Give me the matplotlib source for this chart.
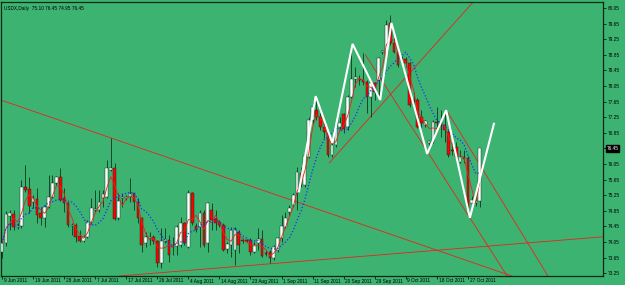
import matplotlib
matplotlib.use("Agg")
import matplotlib.pyplot as plt
import numpy as np
import pandas as pd

# ---------------- data ----------------
opens = [73.79, 74.02, 74.72, 74.77, 74.43, 74.46, 75.46, 75.41, 75.08, 75.15,
         74.79, 74.67, 74.95, 75.20, 75.56, 75.72, 75.18, 75.05, 74.46, 74.49,
         74.20, 74.08, 74.18, 74.56, 74.87, 74.87, 75.18, 75.20, 75.90, 75.95,
         74.67, 75.18, 75.18, 75.20, 75.31, 75.08, 74.67, 74.02, 74.15, 74.18,
         74.08, 73.51, 74.08, 74.10, 73.95, 73.95, 73.97, 74.54, 73.92, 75.31,
         74.46, 74.43, 74.79, 74.02, 74.87, 74.64, 74.56, 74.49, 73.87, 73.97,
         73.85, 74.31, 74.10, 74.10, 74.10, 73.79, 74.02, 74.13, 73.77, 73.79,
         73.64, 73.85, 74.15, 74.43, 74.82, 75.00, 75.31, 75.82, 75.51, 76.23,
         77.18, 77.43, 77.26, 77.00, 76.85, 76.28, 76.54, 77.00, 77.33, 77.00,
         77.77, 78.23, 78.23, 78.20, 78.15, 77.77, 78.13, 78.20, 78.92, 78.90,
         79.67, 79.15, 78.92, 78.77, 78.74, 78.64, 77.69, 77.69, 77.26, 77.05,
         76.59, 76.61, 77.13, 77.13, 77.05, 76.87, 76.41, 76.49, 76.10, 76.23,
         76.20, 75.05, 75.05, 75.10]
highs = [74.08, 74.84, 74.87, 74.87, 74.54, 75.64, 76.02, 75.72, 75.26, 75.43,
         74.95, 75.00, 75.77, 75.77, 75.74, 75.95, 75.43, 75.08, 74.54, 74.54,
         74.36, 74.23, 74.61, 75.18, 75.38, 75.38, 75.38, 76.15, 76.72, 76.08,
         75.31, 75.31, 75.26, 75.69, 75.31, 75.18, 74.69, 74.31, 74.31, 74.23,
         74.10, 74.41, 74.41, 74.23, 74.18, 74.49, 74.69, 74.56, 75.38, 75.33,
         74.54, 74.87, 74.87, 75.08, 75.05, 74.87, 74.61, 74.54, 74.05, 74.43,
         74.43, 74.36, 74.15, 74.13, 74.15, 74.05, 74.41, 74.36, 73.85, 73.85,
         73.97, 74.18, 74.74, 74.82, 75.00, 75.31, 75.97, 75.97, 76.33, 77.26,
         77.64, 77.77, 77.36, 77.10, 76.87, 76.59, 77.10, 77.26, 77.36, 77.82,
         79.08, 78.54, 78.33, 78.90, 78.20, 78.20, 78.15, 78.79, 78.97, 79.74,
         79.87, 79.28, 79.02, 78.82, 78.79, 78.67, 77.90, 77.74, 77.43, 77.18,
         76.67, 77.18, 77.51, 77.43, 77.43, 76.92, 76.67, 76.61, 76.41, 76.41,
         76.26, 75.23, 75.20, 76.45]
lows = [73.64, 73.95, 74.36, 74.36, 74.38, 74.41, 75.33, 74.79, 74.92, 74.54,
        74.49, 74.43, 74.92, 75.18, 75.51, 75.10, 74.82, 74.43, 74.23, 74.05,
        74.05, 74.05, 74.15, 74.51, 74.82, 74.82, 74.95, 75.18, 75.87, 74.61,
        74.61, 74.95, 75.13, 75.08, 74.87, 74.54, 73.79, 73.92, 73.97, 74.00,
        73.41, 73.38, 74.02, 73.54, 73.72, 73.72, 73.92, 73.97, 73.90, 74.49,
        74.31, 73.92, 73.92, 73.79, 74.36, 74.36, 74.43, 73.82, 73.77, 73.67,
        73.46, 73.77, 74.02, 74.05, 73.72, 73.77, 73.85, 73.67, 73.69, 73.51,
        73.59, 73.79, 74.05, 74.41, 74.74, 74.95, 74.87, 75.46, 75.46, 76.20,
        77.10, 77.18, 76.92, 76.72, 76.23, 76.23, 76.49, 76.92, 76.85, 76.92,
        77.74, 78.02, 78.08, 78.08, 77.36, 77.26, 77.69, 77.69, 78.87, 78.85,
        79.10, 78.90, 78.54, 78.59, 78.54, 77.51, 77.49, 76.97, 77.00, 77.00,
        76.41, 76.59, 76.92, 76.74, 76.61, 76.23, 76.28, 76.20, 76.08, 76.08,
        74.72, 74.90, 74.97, 74.95]
closes = [74.02, 74.77, 74.79, 74.43, 74.46, 75.46, 75.38, 74.97, 75.18, 74.74,
          74.67, 74.95, 75.20, 75.56, 75.72, 75.13, 75.05, 74.49, 74.49, 74.18,
          74.08, 74.18, 74.56, 74.92, 74.90, 75.08, 75.28, 75.95, 75.95, 74.64,
          75.10, 75.20, 75.20, 75.28, 75.08, 74.67, 73.97, 74.18, 74.18, 74.08,
          73.51, 74.08, 74.13, 73.72, 73.92, 74.43, 74.54, 74.02, 75.31, 74.54,
          74.36, 74.79, 73.97, 75.05, 74.61, 74.54, 74.49, 73.85, 74.00, 74.36,
          74.36, 73.97, 74.08, 74.08, 73.79, 73.97, 74.13, 73.69, 73.74, 73.64,
          73.92, 74.15, 74.46, 74.67, 74.92, 75.26, 75.85, 75.51, 76.26, 77.18,
          77.51, 77.26, 77.00, 76.87, 76.28, 76.54, 77.05, 77.10, 76.95, 77.77,
          78.23, 78.28, 78.20, 78.15, 77.77, 78.13, 77.90, 78.77, 78.95, 79.61,
          79.15, 78.92, 78.59, 78.72, 78.64, 77.56, 77.67, 77.00, 77.10, 77.15,
          76.64, 77.13, 77.10, 77.05, 76.92, 76.28, 76.38, 76.23, 76.23, 76.18,
          74.92, 75.13, 75.10, 76.45]

date_labels = ["9 Jun 2011", "19 Jun 2011", "28 Jun 2011", "7 Jul 2011",
               "17 Jul 2011", "26 Jul 2011", "4 Aug 2011", "14 Aug 2011",
               "23 Aug 2011", "1 Sep 2011", "11 Sep 2011", "20 Sep 2011",
               "29 Sep 2011", "9 Oct 2011", "18 Oct 2011", "27 Oct 2011"]
date_label_bars = [0, 8, 16, 24, 32, 40, 48, 56, 64, 72, 80, 88, 96, 104, 112, 120]

price_ticks = [80.05, 79.65, 79.25, 78.85, 78.45, 78.05, 77.65, 77.25, 76.85,
               76.45, 76.05, 75.65, 75.25, 74.85, 74.45, 74.05, 73.65, 73.25]
last_price = 76.45

zigzag_bars = [76.5, 80.8, 85.1, 90.3, 97.4, 100.3, 109.5, 114.4, 120.5, 126.7]
zigzag_prices = [75.35, 77.79, 76.59, 79.13, 77.69, 79.67, 76.31, 77.43, 74.67, 77.08]

# trend lines: (bar1, price1, bar2, price2, ray?)
trend_lines = [
    (0.0, 77.68, 28.0, 76.72, False),
    (30.5, 73.18, 154.4, 74.18, False),
    (84.3, 76.08, 117.2, 79.74, True),
    (93.6, 78.85, 130.1, 73.18, True),
    (114.9, 77.36, 140.6, 73.18, True),
]

header = "USDX,Daily  75.10 76.45 74.95 76.45"

# ---------------- styling ----------------
BG = "#3cb371"
W, H = 625, 285
fig = plt.figure(figsize=(W / 100, H / 100), dpi=100, facecolor=BG)
ax = fig.add_axes([1.5 / W, 1 - 276 / H, (603 - 1.5) / W, (276 - 1.5) / H])
ax.set_facecolor(BG)

x = np.arange(len(closes))
o = np.array(opens); c = np.array(closes); h = np.array(highs); l = np.array(lows)

# trend lines
for b1, p1, b2, p2, ray in trend_lines:
    if ray:
        slope = (p2 - p1) / (b2 - b1)
        b_end = 170.0
        ax.plot([b1, b_end], [p1, p1 + slope * (b_end - b1)], color="#e8231f",
                lw=0.6, zorder=2)
    else:
        ax.axline((b1, p1), (b2, p2), color="#e8231f", lw=0.6, zorder=2)

# candles
ax.vlines(x, l, h, color="#0a2a14", lw=0.55, zorder=3)
up = c >= o
body_bottom = np.minimum(o, c)
body_h = np.maximum(np.abs(c - o), 0.012)
ax.bar(x[up], body_h[up], bottom=body_bottom[up], width=0.7, color="white",
       edgecolor="#0a2a14", linewidth=0.3, zorder=4)
ax.bar(x[~up], body_h[~up], bottom=body_bottom[~up], width=0.7, color="#ff0000",
       edgecolor="#0a2a14", linewidth=0.3, zorder=4)

# moving averages of the closes
close_s = pd.Series(closes)
ma_fast = close_s.rolling(3, min_periods=1).mean()
ma_slow = close_s.rolling(8, min_periods=1).mean()
ax.plot(x, ma_fast, color="#e8231f", lw=0.6, zorder=5)
ax.plot(x, ma_slow, color="#1530ff", lw=0.9, ls=(0, (1, 1.6)), zorder=5)

# zigzag
ax.plot(zigzag_bars, zigzag_prices, color="white", lw=1.5, zorder=6,
        solid_joinstyle="miter")

ax.set_xlim(-0.13, 154.8)
ax.set_ylim(73.178, 80.217)

for s in ax.spines.values():
    s.set_color("#0a2a14")
    s.set_linewidth(0.9)

FS = 3.4
FONT = "Liberation Sans"
ax.yaxis.tick_right()
ax.set_yticks(price_ticks)
ax.set_yticklabels([("" if abs(p - last_price) < 1e-6 else f"{p:.2f}") for p in price_ticks],
                   fontsize=FS, family=FONT, color="black")
ax.tick_params(axis="y", direction="out", length=2.2, width=0.5, pad=1.2,
               colors="black")
ax.set_xticks(date_label_bars)
ax.set_xticklabels([])
ax.tick_params(axis="x", direction="out", length=2.2, width=0.5, colors="black")

# date labels: left-aligned just right of the tick
for b, lab in zip(date_label_bars, date_labels):
    ax.annotate(lab, xy=(b, 0), xycoords=("data", "axes fraction"),
                xytext=(1.2, -3.6), textcoords="offset points",
                ha="left", va="center", fontsize=FS, family=FONT, color="black",
                annotation_clip=False)

# last price marker
ax.annotate(f"{last_price:.2f}", xy=(1, last_price), xycoords=("axes fraction", "data"),
            xytext=(2.6, 0), textcoords="offset points", ha="left", va="center",
            fontsize=FS, family=FONT, color="white",
            bbox=dict(boxstyle="square,pad=0.15", fc="black", ec="black"),
            annotation_clip=False)

# header
ax.text(0.004, 0.985, header, transform=ax.transAxes, ha="left", va="top",
        fontsize=FS, family=FONT, color="black")

fig.savefig("out.png", dpi=100, facecolor=BG)
